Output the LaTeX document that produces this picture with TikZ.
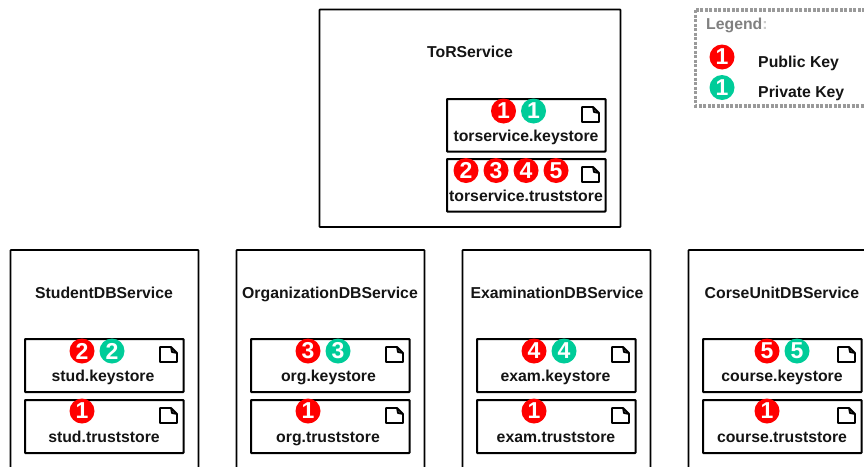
\documentclass[tikz,border=0pt]{standalone}
\usepackage{fontspec}
\setmainfont{Liberation Sans}
\definecolor{pubred}{RGB}{255,0,0}
\definecolor{privgreen}{RGB}{0,204,153}
\definecolor{legendgray}{RGB}{128,128,128}
\tikzset{
  svcbox/.style={draw=black,line width=1.8pt,rounded corners=0.6pt},
  storebox/.style={draw=black,line width=2pt,rounded corners=0.6pt},
  lbl/.style={font=\fontsize{15.8}{18}\selectfont\bfseries,text=black!92,inner sep=0pt,anchor=base},
  lblw/.style={lbl,anchor=base west},
  pub/.style={circle,fill=pubred,minimum size=25pt,inner sep=0pt,text=white,font=\fontsize{23}{24}\selectfont\bfseries},
  priv/.style={pub,fill=privgreen},
  fileicon/.pic={\draw[black,line width=1.8pt,line join=round] (0,0) -- (11,0) -- (17,6) -- (17,15) -- (0,15) -- cycle (11,0) -- (12,5) -- (17,6);}
}
\newcommand{\storeunit}[6]{% name, left x, top y, label x, label, baseline y
  \path[storebox] (#2,#3) rectangle ++(158.5,53);
  \node[lbl] (#1) at (#4,#6) {#5};
  \pic at (#2+135,#3+8) {fileicon};
}
\begin{document}
\begin{tikzpicture}[x=1pt,y=-1pt]
\useasboundingbox (0,0) rectangle (864,466);
\clip (0,0) rectangle (864,466);
% ToR
\draw[svcbox] (319.5,9.5) rectangle (620.5,227);
\node[lbl] (tor) at (470,57.5) {ToRService};
\draw[storebox] (447,99) rectangle (605.5,151.5);
\draw[storebox] (447,159) rectangle (605.5,211.5);
\node[lbl] (torks) at (526,141.5) {torservice.keystore};
\node[lbl] (torts) at (526,201.5) {torservice.truststore};
\pic at (582,107) {fileicon};
\pic at (582,167) {fileicon};
\node[pub] (t1) at (503.5,111) {1};
\node[priv] (t1p) at (533.5,111) {1};
\node[pub] (t2) at (466,170.5) {2};
\node[pub] (t3) at (496,170.5) {3};
\node[pub] (t4) at (526,170.5) {4};
\node[pub] (t5) at (556,170.5) {5};
% Legend
\draw[legendgray!80,line width=3.4pt,dash pattern=on 3pt off 1.5pt] (695.5,10) rectangle (880,106);
\node[lblw,text=legendgray] (lg) at (706,29) {Legend\textcolor{legendgray!40}{:}};
\node[pub] (lpub) at (722,57) {1};
\node[priv] (lpriv) at (722,87.5) {1};
\node[lblw] (lpubt) at (758,67) {Public Key};
\node[lblw] (lprivt) at (758,97) {Private Key};
% Student
\draw[svcbox] (10.5,250) rectangle (198.5,480);
\node[lbl] (s) at (104,298) {StudentDBService};
\storeunit{sk}{25}{339}{103}{stud.keystore}{381.5}
\storeunit{st}{25}{400}{104}{stud.truststore}{442.5}
\node[pub] (s2) at (82,351) {2};
\node[priv] (s2p) at (112,351) {2};
\node[pub] (s1) at (82,411) {1};
% Organization
\draw[svcbox] (236.5,250) rectangle (424.5,480);
\node[lbl] (o) at (330,298) {OrganizationDBService};
\storeunit{ok}{251}{339}{328.5}{org.keystore}{381.5}
\storeunit{ot}{251}{400}{328}{org.truststore}{442.5}
\node[pub] (o3) at (308,351) {3};
\node[priv] (o3p) at (338,351) {3};
\node[pub] (o1) at (308,411) {1};
% Examination
\draw[svcbox] (462.5,250) rectangle (650.5,480);
\node[lbl] (e) at (557,298) {ExaminationDBService};
\storeunit{ek}{477}{339}{555.5}{exam.keystore}{381.5}
\storeunit{et}{477}{400}{556}{exam.truststore}{442.5}
\node[pub] (e4) at (534,351) {4};
\node[priv] (e4p) at (564,351) {4};
\node[pub] (e1) at (534,411) {1};
% Course
\draw[svcbox] (688.5,250) rectangle (876.5,480);
\node[lbl] (c) at (782,298) {CorseUnitDBService};
\storeunit{ck}{703}{339}{782}{course.keystore}{381.5}
\storeunit{ct}{703}{400}{782}{course.truststore}{442.5}
\node[pub] (c5) at (767,351) {5};
\node[priv] (c5p) at (797,351) {5};
\node[pub] (c1) at (767,411) {1};
\end{tikzpicture}
\end{document}
